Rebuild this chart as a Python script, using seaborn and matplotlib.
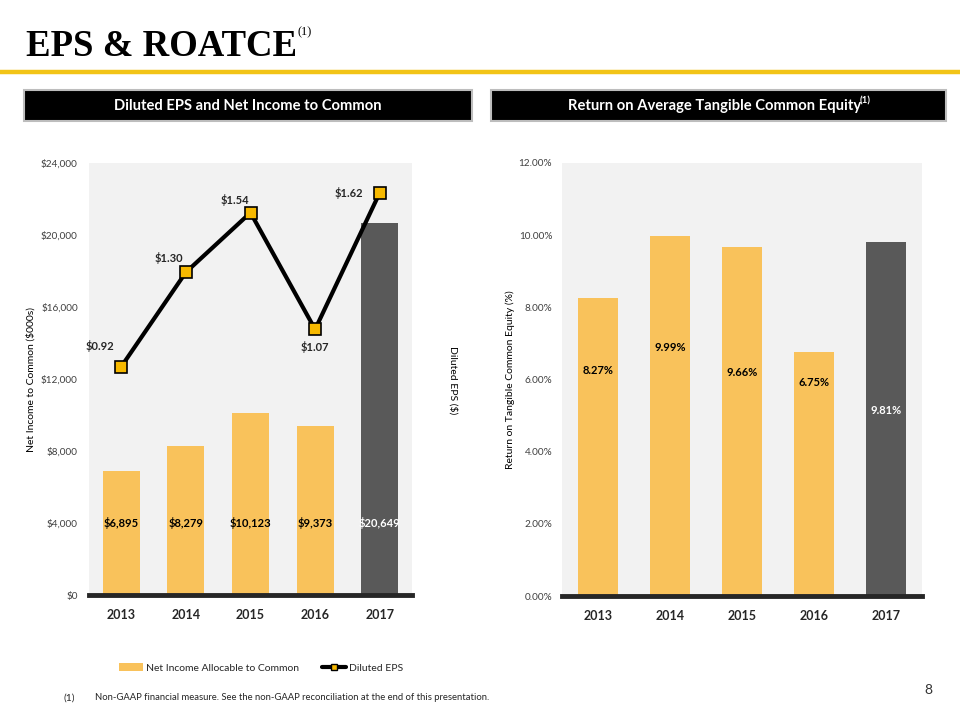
import numpy as np
import pandas as pd
import seaborn as sns
import matplotlib.pyplot as plt
from matplotlib.patches import Rectangle, Patch
from matplotlib.lines import Line2D

# chart data
years = ['2013', '2014', '2015', '2016', '2017']
net_income = [6895, 8279, 10123, 9373, 20649]
diluted_eps = [0.92, 1.30, 1.54, 1.07, 1.62]
roatce = [8.27, 9.99, 9.66, 6.75, 9.81]

#colours
GOLD = '#F9C25B'
DARK = '#595959'
BG = '#F2F2F2'
MARKER = '#F7B900'
RULE = '#F2C417'

sns.set_theme(style='white')
plt.rcParams['font.family'] = ['Lato', 'DejaVu Sans']

W, H = 960, 720
fig = plt.figure(figsize=(9.6, 7.2), dpi=100)


def fx(px):
    return px / W


def fy(py):
    return 1 - py / H


#title and yellow rule
title = fig.text(fx(26), fy(46), 'EPS & ROATCE', family='Liberation Serif',
                 fontweight='bold', fontsize=26.5, va='center', ha='left', color='black')
fig.add_artist(Line2D([0, 1], [fy(71.5), fy(71.5)], color=RULE, lw=3.2))

#header boxes
for x0, x1, label in [(24, 472, 'Diluted EPS and Net Income to Common'),
                      (491, 946, 'Return on Average Tangible Common Equity')]:
    fig.add_artist(Rectangle((fx(x0), fy(121)), fx(x1 - x0), (121 - 90) / H,
                             facecolor='black', edgecolor='#BDBDBD', lw=1.5))
    fig.text(fx((x0 + x1) / 2) - 0.004 * (x0 > 400), fy(106), label, color='white',
             fontweight='bold', fontsize=10.6, ha='center', va='center')

fig.canvas.draw()
renderer = fig.canvas.get_renderer()
hdr = [t for t in fig.texts if t.get_text().startswith('Return on')][0]
bb = hdr.get_window_extent(renderer)
fig.text(bb.x1 / W - 0.002, fy(101), '(1)', color='white', fontweight='bold',
         fontsize=7, ha='left', va='center')
bb = title.get_window_extent(renderer)
fig.text(bb.x1 / W, fy(32), '(1)', family='Liberation Serif',
         fontsize=9, ha='left', va='center', color='black')

#left chart: net income bars + EPS line
ax = fig.add_axes([fx(89), fy(595), fx(412 - 89), (595 - 163) / H])
df_left = pd.DataFrame({'year': years, 'income': net_income})
sns.barplot(data=df_left, x='year', y='income', hue='year',
            palette=[GOLD] * 4 + [DARK], width=0.57, legend=False, ax=ax,
            saturation=1, linewidth=0, edgecolor='none')
ax.set_facecolor(BG)
ax.set_ylim(0, 24000)
ax.set_xlim(-0.5, 4.5)
ax.set_yticks(np.arange(0, 24001, 4000))
ax.set_yticklabels([f'${v:,.0f}' for v in np.arange(0, 24001, 4000)],
                   fontsize=7.2, color='#404040')
ax.set_xlabel('')
ax.set_ylabel('')
for s in ['top', 'right', 'left']:
    ax.spines[s].set_visible(False)
ax.spines['bottom'].set_color('#262626')
ax.spines['bottom'].set_linewidth(3.5)
ax.tick_params(axis='x', length=0, pad=10, labelsize=9)
ax.tick_params(axis='y', length=0, pad=8)
for lbl in ax.get_xticklabels():
    lbl.set_fontweight('bold')
for i, v in enumerate(net_income):
    ax.text(i, 4000, f'${v:,.0f}', ha='center', va='center', fontsize=8,
            fontweight='bold', color='white' if i == 4 else 'black')

ax2 = ax.twinx()
sns.lineplot(x=np.arange(len(years)), y=diluted_eps, ax=ax2, color='black', lw=3,
             marker='s', markersize=8.5, markerfacecolor=MARKER,
             markeredgecolor='black', markeredgewidth=1.2)
ax2.set_ylim(0, 1.74)
ax2.set_yticks([])
for s in ax2.spines.values():
    s.set_visible(False)
eps_offsets = [(-21, 21), (-17, 14), (-16, 13), (0, -18), (-31, 0)]
for i, (v, off) in enumerate(zip(diluted_eps, eps_offsets)):
    ax2.annotate(f'${v:.2f}', (i, v), xytext=off, textcoords='offset pixels',
                 ha='center', va='center', fontsize=8, fontweight='bold')

fig.text(fx(31), fy(379), 'Net Income to Common ($000s)', rotation=90,
         ha='center', va='center', fontsize=7.5, color='black')
fig.text(fx(453), fy(380), 'Diluted EPS ($)', rotation=270,
         ha='center', va='center', fontsize=7.5, color='black')

#right chart: ROATCE bars
axr = fig.add_axes([fx(562), fy(596), fx(922 - 562), (596 - 163) / H])
df_right = pd.DataFrame({'year': years, 'roatce': roatce})
sns.barplot(data=df_right, x='year', y='roatce', hue='year',
            palette=[GOLD] * 4 + [DARK], width=0.565, legend=False, ax=axr,
            saturation=1, linewidth=0, edgecolor='none')
axr.set_facecolor(BG)
axr.set_ylim(0, 12)
axr.set_xlim(-0.5, 4.5)
axr.set_yticks(np.arange(0, 12.1, 2))
axr.set_yticklabels([f'{v:.2f}%' for v in np.arange(0, 12.1, 2)],
                    fontsize=7.2, color='#404040')
axr.set_xlabel('')
axr.set_ylabel('')
for s in ['top', 'right', 'left']:
    axr.spines[s].set_visible(False)
axr.spines['bottom'].set_color('#262626')
axr.spines['bottom'].set_linewidth(3.5)
axr.tick_params(axis='x', length=0, pad=10, labelsize=9)
axr.tick_params(axis='y', length=0, pad=7)
for lbl in axr.get_xticklabels():
    lbl.set_fontweight('bold')
label_y = [6.25, 6.89, 6.19, 5.92, 5.14]
for i, (v, ly) in enumerate(zip(roatce, label_y)):
    axr.text(i, ly, f'{v:.2f}%', ha='center', va='center', fontsize=8,
             fontweight='bold', color='white' if i == 4 else 'black')
fig.text(fx(510), fy(380), 'Return on Tangible Common Equity (%)', rotation=90,
         ha='center', va='center', fontsize=7.5, color='black')

#legend
handles = [Patch(facecolor=GOLD, edgecolor='none', label='Net Income Allocable to Common'),
           Line2D([], [], color='black', lw=3, marker='s', markersize=5,
                  markerfacecolor=MARKER, markeredgecolor='black',
                  label='Diluted EPS')]
fig.legend(handles=handles, loc='center', bbox_to_anchor=(fx(261), fy(668)),
           ncol=2, frameon=False, fontsize=7.5, handlelength=2.3,
           columnspacing=2.2, handletextpad=0.3)

#footnote and page number
fig.text(fx(63), fy(698), '(1)', fontsize=7.5, ha='left', va='center')
fig.text(fx(95), fy(698),
         'Non-GAAP financial measure. See the non-GAAP reconciliation at the end of this presentation.',
         fontsize=6.8, ha='left', va='center')
fig.text(fx(928), fy(690), '8', fontsize=10, ha='center', va='center', color='#333333')

fig.savefig('out.png', dpi=100)
